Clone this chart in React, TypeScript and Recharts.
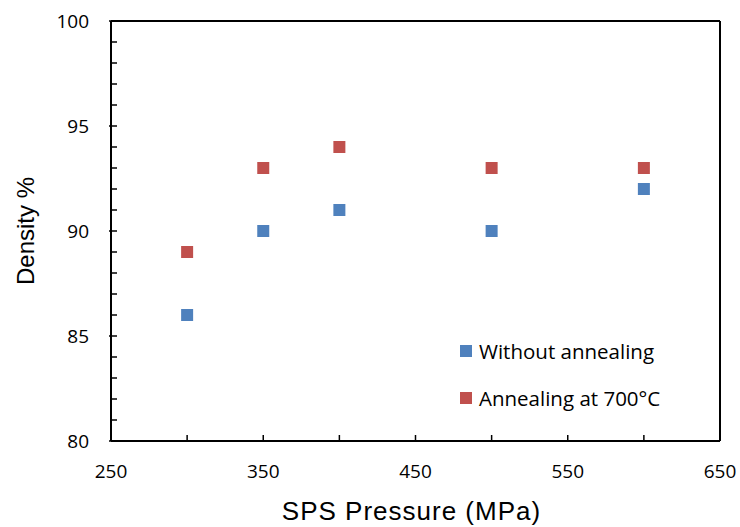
import { ScatterChart, Scatter, XAxis, YAxis, Legend } from 'recharts';

const pressures = [300, 350, 400, 500, 600];
const withoutAnnealing = [86, 90, 91, 90, 92];
const annealing700 = [89, 93, 94, 93, 93];

const xTicks = [250, 300, 350, 400, 450, 500, 550, 600, 650];
const xLabels = [250, 350, 450, 550, 650];
const yTicks = Array.from({ length: 21 }, (_, i) => 80 + i);
const yLabels = [80, 85, 90, 95, 100];

const seriesNames = ['Without annealing', 'Annealing at 700°C'];

const BLUE = '#4F81BD';
const RED = '#C0504D';
const TICK_FONT = '"Open Sans", sans-serif';
const TITLE_FONT = '"Liberation Sans", Arial, sans-serif';

const blueData = pressures.map((p, i) => ({ x: p, y: withoutAnnealing[i] }));
const redData = pressures.map((p, i) => ({ x: p, y: annealing700[i] }));

const axisLine = { stroke: '#000', strokeWidth: 2 };

// tick marks point into the plot; labels only on the major values
const BottomTick = (props: any) => {
  const { x, y, payload } = props;
  const v = payload.value;
  return (
    <g>
      <line x1={x} x2={x} y1={y} y2={y - 6} stroke="#000" strokeWidth={1.5} />
      {xLabels.includes(v) ? (
        <text x={x} y={y + 37} textAnchor="middle" fontSize={19} fontFamily={TICK_FONT} fill="#000">
          {v}
        </text>
      ) : null}
    </g>
  );
};

const TopTick = (props: any) => {
  const { x, y } = props;
  return <line x1={x} x2={x} y1={y} y2={y + 6} stroke="#000" strokeWidth={1.5} />;
};

const LeftTick = (props: any) => {
  const { x, y, payload } = props;
  const v = payload.value;
  const major = yLabels.includes(v);
  return (
    <g>
      <line x1={major ? x - 2 : x} x2={x + 6} y1={y} y2={y} stroke="#000" strokeWidth={1.5} />
      {major ? (
        <text x={x - 22} y={y + 7} textAnchor="end" fontSize={19} fontFamily={TICK_FONT} fill="#000">
          {v}
        </text>
      ) : null}
    </g>
  );
};

const RightTick = (props: any) => {
  const { x, y } = props;
  return <line x1={x} x2={x - 6} y1={y} y2={y} stroke="#000" strokeWidth={1.5} />;
};

const SquareDot = (props: any) => {
  const { cx, cy, fill } = props;
  return <rect x={cx - 6} y={cy - 6} width={12} height={12} fill={fill} />;
};

const LegendBox = () => (
  <div style={{ fontFamily: TICK_FONT, fontSize: 20.5, color: '#000' }}>
    {seriesNames.map((name, i) => (
      <div key={name} style={{ display: 'flex', alignItems: 'center', height: 47 }}>
        <span
          style={{
            display: 'inline-block',
            width: 12,
            height: 12,
            background: i === 0 ? BLUE : RED,
            marginRight: 7,
          }}
        />
        <span>{name}</span>
      </div>
    ))}
  </div>
);

export default function App() {
  return (
    <div style={{ position: 'absolute', left: 0, top: 0, background: '#fff' }}>
      <ScatterChart width={740} height={527} margin={{ top: 20, right: 19, bottom: 0, left: 0 }}>
        <XAxis
          xAxisId="bottom"
          type="number"
          dataKey="x"
          domain={[250, 650]}
          ticks={xTicks}
          interval={0}
          height={86}
          tickSize={0}
          tickMargin={0}
          tickLine={false}
          axisLine={axisLine}
          tick={BottomTick}
          label={{
            value: 'SPS Pressure (MPa)',
            content: ({ viewBox }: any) => (
              <text
                x={viewBox.x + viewBox.width / 2 - 4}
                y={viewBox.y + 79}
                textAnchor="middle"
                fontFamily={TITLE_FONT}
                fontSize={26}
                letterSpacing={1}
                fill="#000"
              >
                SPS Pressure (MPa)
              </text>
            ),
          }}
        />
        <XAxis
          xAxisId="top"
          orientation="top"
          type="number"
          dataKey="x"
          domain={[250, 650]}
          ticks={xTicks}
          interval={0}
          height={1}
          tickSize={0}
          tickMargin={0}
          tickLine={false}
          axisLine={axisLine}
          tick={TopTick}
        />
        <YAxis
          yAxisId="left"
          type="number"
          dataKey="y"
          domain={[80, 100]}
          ticks={yTicks}
          interval={0}
          width={111}
          tickSize={0}
          tickMargin={0}
          tickLine={false}
          axisLine={axisLine}
          tick={LeftTick}
          label={{
            value: 'Density %',
            content: ({ viewBox }: any) => {
              const cx = viewBox.x + 25;
              const cy = viewBox.y + viewBox.height / 2;
              return (
                <text
                  x={cx}
                  y={cy}
                  transform={`rotate(-90 ${cx} ${cy})`}
                  textAnchor="middle"
                  dominantBaseline="central"
                  fontFamily={TITLE_FONT}
                  fontSize={24}
                  fill="#000"
                >
                  Density %
                </text>
              );
            },
          }}
        />
        <YAxis
          yAxisId="right"
          orientation="right"
          type="number"
          dataKey="y"
          domain={[80, 100]}
          ticks={yTicks}
          interval={0}
          width={1}
          tickSize={0}
          tickMargin={0}
          tickLine={false}
          axisLine={axisLine}
          tick={RightTick}
        />
        <Legend
          layout="vertical"
          align="center"
          verticalAlign="middle"
          content={<LegendBox />}
          wrapperStyle={{ left: 460, top: 327, width: 'auto' }}
        />
        <Scatter
          name={seriesNames[0]}
          data={blueData}
          xAxisId="bottom"
          yAxisId="left"
          fill={BLUE}
          shape={SquareDot}
          isAnimationActive={false}
        />
        <Scatter
          name={seriesNames[1]}
          data={redData}
          xAxisId="bottom"
          yAxisId="left"
          fill={RED}
          shape={SquareDot}
          isAnimationActive={false}
        />
      </ScatterChart>
    </div>
  );
}
